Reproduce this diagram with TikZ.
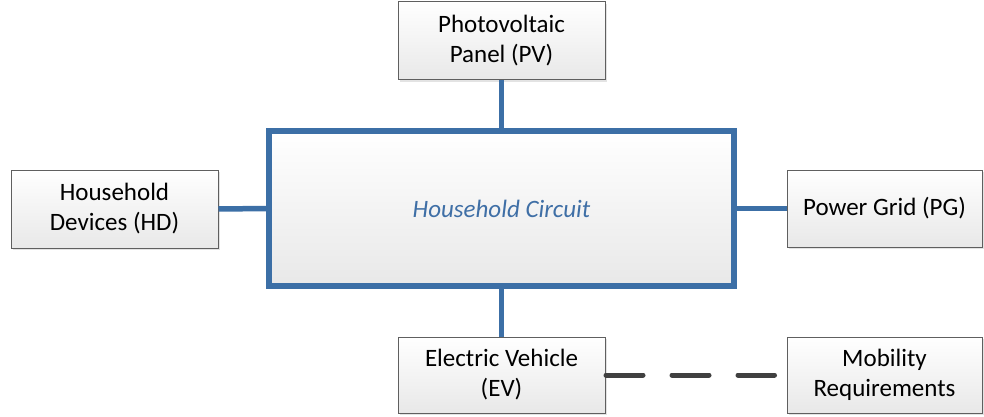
\documentclass[tikz,border=0pt]{standalone}
\usepackage{fontspec}
\setmainfont{Carlito}
\usetikzlibrary{shadows}
\definecolor{vblue}{RGB}{60,111,166}
\definecolor{vtext}{RGB}{63,111,166}
\definecolor{vgray}{RGB}{64,64,64}
\definecolor{vborder}{RGB}{95,95,95}
\begin{document}
\begin{tikzpicture}[x=1pt,y=-1pt,
  box/.style={draw=vborder, line width=1pt, top color=white, bottom color=black!9,
    align=center, inner sep=0pt, font=\fontsize{25}{30}\selectfont,
    drop shadow={shadow xshift=2pt, shadow yshift=-2pt, fill=black!22}},
  hub/.style={draw=vblue, line width=5.5pt, top color=white, bottom color=black!9,
    align=center, inner sep=0pt, font=\fontsize{25}{30}\selectfont\itshape, text=vtext,
    drop shadow={shadow xshift=2pt, shadow yshift=-2pt, fill=black!15}},
  link/.style={draw=vblue, line width=5.5pt},
  dashlink/.style={draw=vgray, line width=5pt, line cap=round, dash pattern=on 37pt off 29pt}]
\useasboundingbox (0,0) rectangle (984,417);
\node[hub, minimum width=465pt, minimum height=155pt] (hc) at (501.5,208.5) {Household Circuit};
\node[box, minimum width=207pt, minimum height=78pt] (pv) at (501.5,41) {Photovoltaic\\Panel (PV)};
\node[box, minimum width=207pt, minimum height=78pt] (hd) at (114.5,209) {Household\\Devices (HD)};
\node[box, minimum width=195pt, minimum height=77pt] (pg) at (884.5,208.5) {Power Grid (PG)};
\node[box, minimum width=207pt, minimum height=76pt] (ev) at (501.5,375) {Electric Vehicle\\(EV)};
\node[box, minimum width=195pt, minimum height=76pt] (mr) at (884.5,375) {Mobility\\Requirements};
\draw[link] (pv.south) -- (hc.north);
\draw[link] (hd.east) -- (hc.west);
\draw[link] (hc.east) -- (pg.west);
\draw[link] (hc.south) -- (ev.north);
\draw[dashlink] ([xshift=0.5pt]ev.east) -- ([xshift=-12pt]mr.west);
\end{tikzpicture}
\end{document}
